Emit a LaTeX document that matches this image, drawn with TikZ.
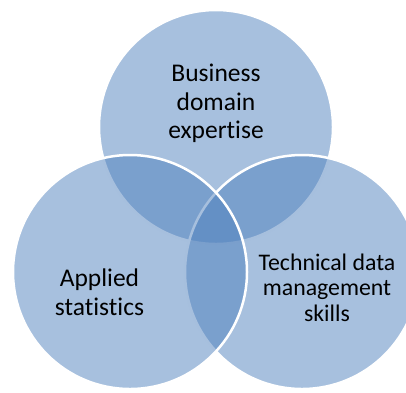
\documentclass[tikz,border=0pt]{standalone}
\usepackage{fontspec}
\setmainfont{Carlito}[Ligatures=NoCommon]
\usepackage{tikz}
\definecolor{vennblue}{RGB}{79,129,189}

\begin{document}
\begin{tikzpicture}[x=1pt,y=-1pt]

\def\radius{234pt}
\tikzset{venn/.style={circle, minimum size=\radius, inner sep=0pt, fill=vennblue, fill opacity=.5, draw=white, draw opacity=1, line width=2.5pt}}
\tikzset{venntext/.style={align=center, anchor=base, inner sep=0pt}}

\useasboundingbox (0,0) rectangle (406,392);

% Circles (top, right, left)
\node[venn] (business) at (216,127) {};
\node[venn] (tech) at (302,272) {};
\node[venn] (stats) at (130,272) {};

% Labels (anchored at the last line)
\node[venntext, font=\fontsize{25.5}{28.3}\selectfont] (businesstext) at (216,138.3) {Business\\domain\\expertise};
\node[venntext, font=\fontsize{25.5}{28.8}\selectfont] (statstext) at (99.5,315) {Applied\\statistics};
\node[venntext, font=\fontsize{23.8}{25.8}\selectfont] (techtext) at (327,321.7) {Technical data\\management\\skills};

\end{tikzpicture}
\end{document}
